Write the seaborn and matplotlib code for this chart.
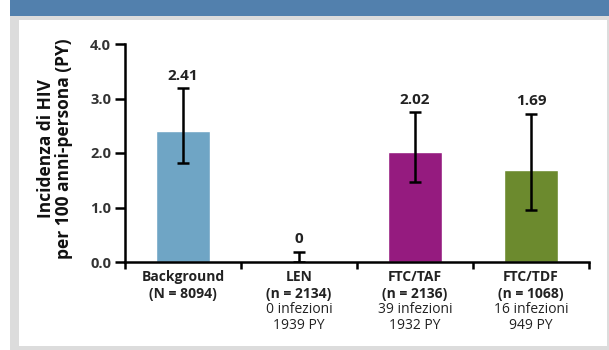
import matplotlib
matplotlib.use("Agg")
import matplotlib.pyplot as plt
from matplotlib.patches import Rectangle
import seaborn as sns
import pandas as pd

# dati
groups = ["Background", "LEN", "FTC/TAF", "FTC/TDF"]
sizes = ["(N = 8094)", "(n = 2134)", "(n = 2136)", "(n = 1068)"]
infections = ["", "0 infezioni", "39 infezioni", "16 infezioni"]
person_years = ["", "1939 PY", "1932 PY", "949 PY"]
incidence = [2.41, 0.0, 2.02, 1.69]
ci_low = [1.82, 0.0, 1.47, 0.96]
ci_high = [3.19, 0.19, 2.75, 2.72]
value_labels = ["2.41", "0", "2.02", "1.69"]
colors = ["#6fa5c5", "#ffffff", "#951b7f", "#6c8a2e"]

sns.set_style("white")
plt.rcParams["font.family"] = ["Open Sans", "Lato", "DejaVu Sans"]

W, H = 609, 350
fig = plt.figure(figsize=(W / 100, H / 100), dpi=100)
fig.patch.set_facecolor("white")


def px_rect(x0, y0, x1, y1, color):
    # rettangolo in pixel (origine in alto a sinistra)
    fig.add_artist(Rectangle((x0 / W, 1 - y1 / H), (x1 - x0) / W, (y1 - y0) / H,
                             transform=fig.transFigure, color=color, zorder=-10, lw=0))


px_rect(10, 0, W, H, "#dcdcdc")
px_rect(19, 20, 607, 346, "white")
px_rect(10, 0, W, 16, "#5280ad")

ax = fig.add_axes([125 / W, 1 - 262 / H, (589 - 125) / W, (262 - 44) / H])
ax.set_facecolor("none")

df = pd.DataFrame({"group": groups, "incidence": incidence})
sns.barplot(data=df, x="group", y="incidence", hue="group", palette=colors,
            legend=False, width=0.47, ax=ax, saturation=1)

xs = range(len(groups))
yerr = [[v - lo for v, lo in zip(incidence, ci_low)],
        [hi - v for v, hi in zip(incidence, ci_high)]]
ax.errorbar(list(xs), incidence, yerr=yerr, fmt="none", ecolor="black",
            elinewidth=1.8, capsize=4.5, capthick=1.8, zorder=5)

for i, lab in enumerate(value_labels):
    ax.annotate(lab, xy=(i, ci_high[i]), xytext=(0, 4), textcoords="offset points",
                ha="center", va="bottom", fontsize=11, fontweight="bold", color="#222222")

ax.set_xlim(-0.5, 3.5)
ax.set_ylim(0, 4)
ax.set_yticks([0, 1, 2, 3, 4])
ax.set_yticklabels(["0.0", "1.0", "2.0", "3.0", "4.0"], fontsize=10.5,
                   fontweight="bold", color="#333333")
ax.set_xticks([-0.5, 0.5, 1.5, 2.5, 3.5])
ax.set_xticklabels([])
ax.tick_params(axis="y", direction="out", length=7, width=1.8, color="black", pad=3, left=True)
ax.tick_params(axis="x", direction="out", length=5, width=1.8, color="black", bottom=True)
for side in ["top", "right"]:
    ax.spines[side].set_visible(False)
for side in ["left", "bottom"]:
    ax.spines[side].set_linewidth(1.8)
    ax.spines[side].set_color("black")
ax.set_xlabel("")
ax.set_ylabel("")

fig.text(55 / W, 1 - 149 / H, "Incidenza di HIV\nper 100 anni-persona (PY)", rotation=90,
         ha="center", va="center", multialignment="center", fontsize=12.5,
         fontweight="bold", color="#111111", linespacing=1.0)

# etichette delle categorie, una riga alla volta
offsets = [-11, -23, -34.5, -45.5]
for i in xs:
    lines = [(groups[i], "bold"), (sizes[i], "bold"),
             (infections[i], "normal"), (person_years[i], "normal")]
    for (txt, weight), off in zip(lines, offsets):
        if not txt:
            continue
        ax.annotate(txt, xy=(i, 0), xytext=(0, off), textcoords="offset points",
                    ha="center", va="center", fontsize=10, fontweight=weight,
                    color="#222222", annotation_clip=False)

fig.savefig("out.png", dpi=100)
